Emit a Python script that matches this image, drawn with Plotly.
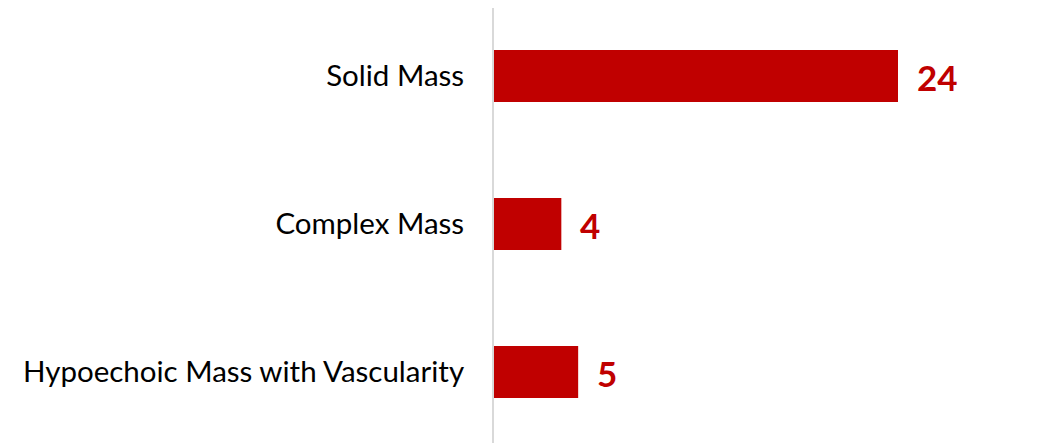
import plotly.graph_objects as go

categories = ["Solid Mass", "Complex Mass", "Hypoechoic Mass with Vascularity"]
values = [24, 4, 5]

fig = go.Figure()
fig.add_trace(go.Bar(
    y=categories, x=values, orientation="h",
    marker=dict(color="#C00000", line=dict(width=0)),
    hoverinfo="skip",
))
for c, v in zip(categories, values):
    fig.add_annotation(x=v, y=c, text=f"<b>{v}</b>", showarrow=False,
                       xanchor="left", xshift=17, yshift=-1,
                       font=dict(family="Lato", size=35, color="#C00000"))

fig.update_layout(
    width=1056, height=435,
    margin=dict(l=486, r=65, t=0, b=0),
    plot_bgcolor="white", paper_bgcolor="white",
    bargap=0.649, showlegend=False,
    font=dict(family="Lato", size=29.5, color="#000000"),
)
fig.update_xaxes(range=[0, 30], visible=False, showgrid=False, zeroline=False)
fig.update_yaxes(range=[2.48, -0.459], showgrid=False, zeroline=False,
                 showline=True, linecolor="#D9D9D9", linewidth=2,
                 ticks="", ticklabelstandoff=22,
                 tickfont=dict(family="Lato", size=29.5, color="#000000"))
fig.write_html("out.html")
